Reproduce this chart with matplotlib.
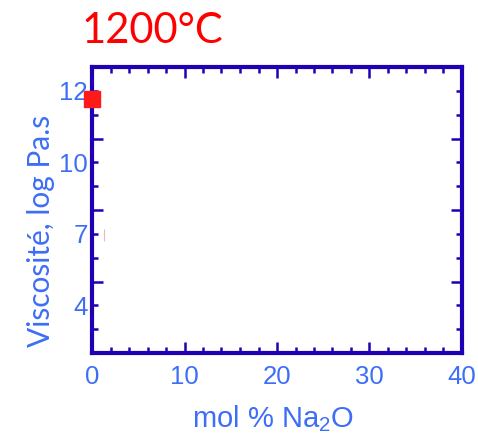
import matplotlib
matplotlib.use("Agg")
import matplotlib.pyplot as plt
from matplotlib.ticker import MultipleLocator

# data (y in axis tick units, labels placed on the ticks as drawn)
na2o = [0.0]
visc_pos = [10.67]
stray_x = [1.3]
stray_y = [4.95]

ytick_pos = [2, 5, 8, 11]
ytick_lab = ["4", "7", "10", "12"]

frame = "#1f00b4"
txt = "#3d6ef7"

fig = plt.figure(figsize=(4.78, 4.38), dpi=100)
ax = fig.add_axes([92/478, 1-353/438, 370/478, 286/438])

ax.plot(na2o, visc_pos, "s", color="#ff1a1a", ms=11, clip_on=False, zorder=5)
ax.plot(stray_x, stray_y, "|", color="#f5b5b5", ms=9, mew=0.8)

ax.set_xlim(0, 40)
ax.set_ylim(0, 12)

for s in ax.spines.values():
    s.set_color(frame)
    s.set_linewidth(3)

ax.xaxis.set_major_locator(MultipleLocator(10))
ax.xaxis.set_minor_locator(MultipleLocator(2))
ax.set_yticks([3, 6, 9])
ax.set_yticklabels([])
minor_y = [1, 2, 4, 5, 7, 8, 10, 11]
ax.set_yticks(minor_y, minor=True)
ax.set_yticklabels([ytick_lab[ytick_pos.index(v)] if v in ytick_pos else "" for v in minor_y],
                   minor=True)

ax.tick_params(which="both", direction="in", top=True, right=True, color=frame,
               width=1.8, labelcolor=txt, labelsize=18.5)
ax.tick_params(which="major", length=8)
ax.tick_params(which="minor", length=4.5)
ax.tick_params(axis="x", which="both", pad=9)
ax.tick_params(axis="y", which="both", pad=3)
for lab in ax.get_xticklabels() + ax.get_yticklabels(which="minor"):
    lab.set_family("Liberation Sans")

plt.rcParams["mathtext.default"] = "regular"
fig.text(273/478, 1-427/438, "mol % Na$_2$O", color=txt, fontsize=21,
         family="Liberation Sans", ha="center", va="baseline")
fig.text(41/478, 1-231/438, "Viscosité, log Pa.s", color=txt, fontsize=21.5,
         family="Lato", rotation=90, ha="center", va="center")
fig.text(82/478, 1-43/438, "1200°C", color="#ff0000", fontsize=30,
         family="Lato", ha="left", va="baseline")

fig.savefig("out.png", dpi=100)
